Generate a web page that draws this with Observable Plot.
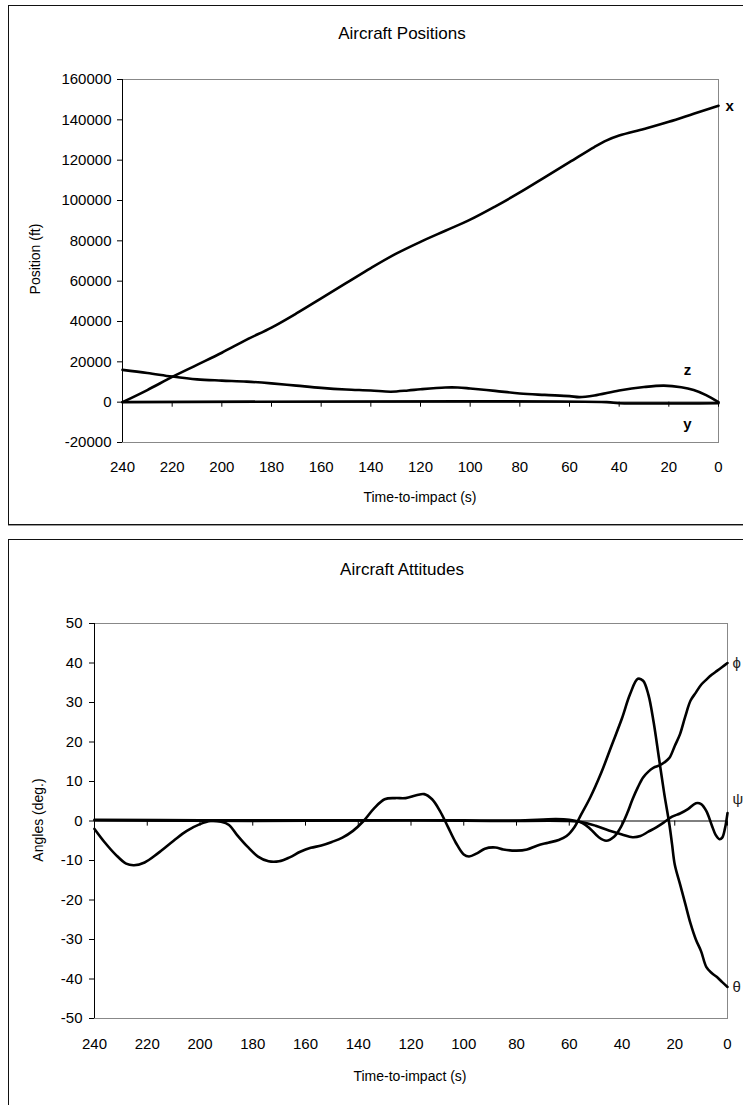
<!DOCTYPE html>
<html>
<head>
<meta charset="utf-8">
<script src="https://cdn.jsdelivr.net/npm/d3@7"></script>
<script src="https://cdn.jsdelivr.net/npm/@observablehq/plot@0.6"></script>
<style>
  html, body { margin: 0; padding: 0; background: #fff; }
  body { font-family: "Liberation Sans", Arial, sans-serif; color: #000; }
  #page { position: relative; width: 743px; height: 1105px; overflow: hidden; background: #fff; }
  .box { position: absolute; left: 8px; width: 800px; border: 1.5px solid #111; box-shadow: 0 1px 0 #999; }
  .abs { position: absolute; white-space: nowrap; line-height: 1; }
  .center { transform: translate(-50%, -50%); }
  .rot { transform: translate(-50%, -50%) rotate(-90deg); }
  .title { font-size: 17px; }
  .axt { font-size: 14px; }
  .layer { position: absolute; left: 0; }
</style>
</head>
<body>
<div id="page">
  <div class="box" style="top:5px;height:518px;"></div>
  <div class="box" style="top:539px;height:600px;"></div>
  <div id="chartTop" class="layer" style="top:0px;"></div>
  <div id="chartBot" class="layer" style="top:540px;"></div>
  <div class="abs center title" style="left:402px;top:33px;">Aircraft Positions</div>
  <div class="abs center axt" style="left:420px;top:497px;">Time-to-impact (s)</div>
  <div class="abs rot axt" style="left:35px;top:259px;">Position (ft)</div>
  <div class="abs center title" style="left:402px;top:569px;">Aircraft Attitudes</div>
  <div class="abs center axt" style="left:410px;top:1076px;">Time-to-impact (s)</div>
  <div class="abs rot axt" style="left:38px;top:820px;">Angles (deg.)</div>
</div>
<script>
// ---------- Data: Aircraft Positions ----------
const timeTicks = [240, 220, 200, 180, 160, 140, 120, 100, 80, 60, 40, 20, 0];
const posTicks = [-20000, 0, 20000, 40000, 60000, 80000, 100000, 120000, 140000, 160000];

const xTime = [240, 230, 220, 210, 200, 190, 180, 170, 160, 150, 140, 130, 120, 110, 100, 90, 80, 70, 60, 50, 45, 40, 30, 20, 10, 0];
const xPos  = [0, 6000, 12500, 18500, 24500, 31000, 37000, 44000, 51500, 59000, 66500, 73500, 79500, 85000, 90500, 97000, 104000, 111500, 119000, 126500, 129800, 132200, 135500, 139000, 143000, 147000];

const zTime = [240, 230, 220, 210, 200, 190, 180, 170, 160, 150, 140, 132, 125, 120, 110, 105, 100, 90, 80, 70, 60, 56, 50, 40, 30, 22, 15, 10, 5, 0];
const zPos  = [16000, 14500, 12700, 11300, 10700, 10200, 9300, 8200, 7100, 6300, 5800, 5200, 5800, 6400, 7300, 7300, 6800, 5600, 4300, 3600, 3000, 2500, 3300, 5800, 7500, 8200, 7400, 6000, 3500, 0];

const yTime = [240, 45, 40, 0];
const yPos  = [0, 0, -500, -500];

// ---------- Data: Aircraft Attitudes ----------
const angTicks = [-50, -40, -30, -20, -10, 0, 10, 20, 30, 40, 50];

const thetaTime = [240, 236, 232, 228, 225, 221, 216, 210, 205, 200, 196, 192, 189, 186, 182, 178, 174, 170, 166, 162, 158, 154, 150, 146, 142, 138, 134, 130, 126, 122, 118, 115, 112, 109, 106, 103, 100, 98, 95, 92, 88, 85, 80, 76, 72, 68, 64, 61, 58, 56, 52, 48, 44, 40, 37, 34, 32, 30, 28, 26, 24, 22, 21, 20, 18, 16, 14, 12, 10, 8, 6, 4, 2, 0];
const theta     = [-2, -5.5, -8.5, -10.8, -11.2, -10.5, -8.2, -5, -2.5, -0.8, 0, -0.2, -1, -3.5, -6.5, -9, -10.2, -10.2, -9.2, -7.8, -6.8, -6.2, -5.3, -4.2, -2.5, 0, 3.2, 5.5, 5.8, 5.8, 6.5, 6.8, 5.5, 2.5, -1.5, -5.5, -8.5, -9, -8.2, -7, -6.7, -7.2, -7.5, -7.2, -6.2, -5.5, -4.8, -3.8, -1.5, 1, 6, 12, 19, 26, 32, 36, 35.5, 32, 25, 16, 7, -1, -6, -11, -16, -21, -26, -30, -33, -37, -38.5, -39.5, -40.8, -42];

const phiTime = [240, 200, 150, 100, 80, 65, 60, 55, 52, 49, 46, 43, 40, 38, 36, 34, 32, 30, 28, 26, 24, 22, 20, 18, 16, 14, 12, 10, 8, 6, 4, 2, 0];
const phi     = [0.3, 0.2, 0.2, 0.2, 0.1, 0.5, 0.3, -0.5, -2, -4, -5, -4, -1, 2, 5.5, 8.5, 11, 12.5, 13.5, 14, 14.8, 16, 19, 22, 26.5, 30.5, 32.5, 34.5, 35.8, 37, 38, 39, 40];

const psiTime = [240, 180, 120, 90, 60, 55, 50, 45, 40, 36, 33, 30, 27, 24, 21, 18, 15, 12, 10, 8, 6, 4.5, 3, 2, 1, 0];
const psi     = [0.2, 0, 0.2, 0, 0, -0.3, -1.2, -2.4, -3.4, -4.1, -3.8, -2.7, -1.6, -0.3, 1.1, 1.9, 3, 4.5, 4.3, 2.5, -1, -3.5, -4.6, -4.2, -2, 2];

const font = "'Liberation Sans', Arial, sans-serif";
const toRows = (ts, vs) => ts.map((t, i) => ({t, v: vs[i]}));
const lineOpts = {x: "t", y: "v", stroke: "#000", strokeWidth: 2.6, curve: "catmull-rom"};

// ---------- Chart 1 ----------
const chart1 = Plot.plot({
  width: 743, height: 530,
  marginLeft: 122, marginRight: 25, marginTop: 79, marginBottom: 88,
  style: {fontFamily: font, fontSize: "15px", color: "#000", background: "transparent", overflow: "visible"},
  x: {domain: [240, 0]},
  y: {domain: [-20000, 160000]},
  marks: [
    Plot.frame({stroke: "#888"}),
    Plot.ruleY([0], {stroke: "#000", strokeWidth: 1}),
    Plot.ruleX(timeTicks, {x: d => d, y1: 0, y2: -2500, stroke: "#000"}),
    Plot.ruleX([240], {stroke: "#000"}),
    Plot.axisY({ticks: posTicks, tickSize: 5, tickPadding: 6, label: null, tickFormat: d => String(d)}),
    Plot.axisX({ticks: timeTicks, tickSize: 0, tickPadding: 19, label: null, tickFormat: d => String(d)}),
    Plot.line(toRows(yTime, yPos), lineOpts),
    Plot.line(toRows(zTime, zPos), lineOpts),
    Plot.line(toRows(xTime, xPos), lineOpts),
    Plot.text([{t: 0, v: 147000, s: "x"}], {x: "t", y: "v", text: "s", dx: 7, fontWeight: "bold", fontSize: 15, textAnchor: "start"}),
    Plot.text([{t: 12.5, v: 16000, s: "z"}], {x: "t", y: "v", text: "s", fontWeight: "bold", fontSize: 15}),
    Plot.text([{t: 12.5, v: -11000, s: "y"}], {x: "t", y: "v", text: "s", fontWeight: "bold", fontSize: 15})
  ]
});
document.getElementById("chartTop").appendChild(chart1);

// ---------- Chart 2 ----------
const chart2 = Plot.plot({
  width: 743, height: 565,
  marginLeft: 94, marginRight: 16, marginTop: 83, marginBottom: 87,
  style: {fontFamily: font, fontSize: "15px", color: "#000", background: "transparent", overflow: "visible"},
  x: {domain: [240, 0]},
  y: {domain: [-50, 50]},
  marks: [
    Plot.frame({stroke: "#888"}),
    Plot.ruleY([0], {stroke: "#000", strokeWidth: 1}),
    Plot.ruleX(timeTicks, {x: d => d, y1: 0, y2: -1.3, stroke: "#000"}),
    Plot.ruleX([240], {stroke: "#000"}),
    Plot.axisY({ticks: angTicks, tickSize: 5, tickPadding: 7, label: null, tickFormat: d => String(d)}),
    Plot.axisX({ticks: timeTicks, tickSize: 0, tickPadding: 20, label: null, tickFormat: d => String(d)}),
    Plot.line(toRows(psiTime, psi), lineOpts),
    Plot.line(toRows(phiTime, phi), lineOpts),
    Plot.line(toRows(thetaTime, theta), lineOpts),
    Plot.text([{t: 0, v: 40, s: "ϕ"}, {t: 0, v: 5.5, s: "ψ"}, {t: 0, v: -42, s: "θ"}],
      {x: "t", y: "v", text: "s", dx: 5, fontSize: 15, textAnchor: "start", fill: "#222"})
  ]
});
document.getElementById("chartBot").appendChild(chart2);
</script>
</body>
</html>
